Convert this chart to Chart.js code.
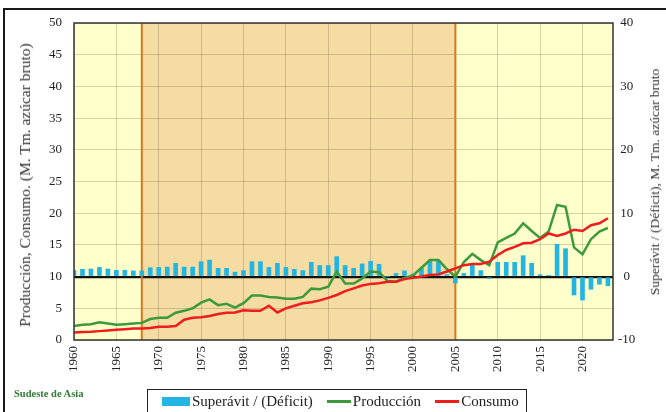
<!DOCTYPE html>
<html>
<head>
<meta charset="utf-8">
<script src="https://cdn.jsdelivr.net/npm/chart.js@4.4.1/dist/chart.umd.min.js"></script>
<style>
  body { margin: 0; background: #fff; }
  #wrap { position: relative; width: 666px; height: 412px; overflow: hidden; font-family: "Liberation Serif", "Times New Roman", serif; color: #222; }
  #frame { position: absolute; left: 3px; top: 8px; width: 700px; height: 500px; border: 2px solid #1a1a1a; }
  #chart { position: absolute; left: 0; top: 0; }
  .ytitle { position: absolute; white-space: nowrap; font-weight: normal; color: #333; transform: translate(-50%, -50%) rotate(-90deg); }
  #ltitle { left: 25px; top: 185px; font-size: 15.5px; }
  #rtitle { left: 655px; top: 182px; font-size: 13.5px; }
  #region { position: absolute; left: 14px; top: 388px; font-size: 10.5px; font-weight: bold; color: #2e7d32; }
  #legend { position: absolute; left: 147px; top: 389px; width: 380px; height: 24px; border: 1.5px solid #222; box-sizing: border-box; display: flex; align-items: center; font-size: 15px; }
  .item { display: flex; align-items: center; margin-left: 14px; }
  .sw { display: inline-block; margin-right: 2px; }
</style>
</head>
<body>
<div id="wrap">
  <div id="frame"></div>
  <canvas id="chart" width="666" height="412"></canvas>
  <div class="ytitle" id="ltitle">Producción, Consumo. (M. Tm. azúcar bruto)</div>
  <div class="ytitle" id="rtitle">Superávit / (Déficit), M. Tm. azúcar bruto</div>
  <div id="region">Sudeste de Asia</div>
  <div id="legend">
    <div class="item"><span class="sw" style="width:28px;height:9px;background:#22b4e2"></span>Superávit / (Déficit)</div>
    <div class="item"><span class="sw" style="width:24px;height:3px;background:#3d9a3a"></span>Producción</div>
    <div class="item"><span class="sw" style="width:24px;height:3px;background:#ee1c1c"></span>Consumo</div>
  </div>
</div>
<script>
const years = [1960, 1961, 1962, 1963, 1964, 1965, 1966, 1967, 1968, 1969,
  1970, 1971, 1972, 1973, 1974, 1975, 1976, 1977, 1978, 1979,
  1980, 1981, 1982, 1983, 1984, 1985, 1986, 1987, 1988, 1989,
  1990, 1991, 1992, 1993, 1994, 1995, 1996, 1997, 1998, 1999,
  2000, 2001, 2002, 2003, 2004, 2005, 2006, 2007, 2008, 2009,
  2010, 2011, 2012, 2013, 2014, 2015, 2016, 2017, 2018, 2019,
  2020, 2021, 2022, 2023];

// production, left axis
const produccion = [2.2, 2.4, 2.5, 2.8, 2.6, 2.4, 2.5, 2.6, 2.7, 3.3,
  3.5, 3.5, 4.3, 4.6, 5.0, 5.9, 6.4, 5.5, 5.7, 5.1,
  5.8, 7.0, 7.0, 6.8, 6.7, 6.5, 6.5, 6.8, 8.1, 8.0,
  8.4, 10.8, 8.9, 8.9, 9.7, 10.8, 10.7, 9.3, 9.2, 9.8,
  10.2, 11.4, 12.6, 12.6, 11.2, 10.0, 12.3, 13.6, 12.6, 11.8,
  15.4, 16.1, 16.8, 18.4, 17.2, 16.1, 17.1, 21.3, 21.0, 14.6,
  13.5, 15.9, 17.1, 17.7];

// consumption, left axis
const consumo = [1.2, 1.25, 1.3, 1.4, 1.5, 1.6, 1.7, 1.8, 1.8, 1.9,
  2.1, 2.1, 2.2, 3.2, 3.5, 3.6, 3.8, 4.1, 4.3, 4.35,
  4.7, 4.6, 4.6, 5.4, 4.35, 5.0, 5.4, 5.8, 5.95, 6.25,
  6.65, 7.1, 7.7, 8.15, 8.6, 8.85, 8.95, 9.2, 9.2, 9.6,
  9.8, 10.0, 10.25, 10.35, 10.8, 11.3, 11.8, 12.0, 12.0, 12.35,
  13.4, 14.2, 14.7, 15.25, 15.35, 15.9, 16.8, 16.4, 16.8, 17.4,
  17.2, 18.1, 18.4, 19.2];

// surplus / (deficit), right axis
const superavit = [0.95, 1.15, 1.2, 1.45, 1.2, 1.0, 1.0, 0.9, 0.9, 1.4,
  1.45, 1.5, 2.1, 1.5, 1.5, 2.35, 2.6, 1.3, 1.3, 0.7,
  0.95, 2.35, 2.35, 1.45, 2.1, 1.45, 1.15, 0.95, 2.25, 1.75,
  1.75, 3.15, 1.75, 1.3, 2.0, 2.4, 1.95, 0.0, 0.5, 0.9,
  0.4, 1.3, 2.4, 2.5, 0.3, -1.0, 0.5, 1.85, 0.95, -0.3,
  2.25, 2.25, 2.25, 3.3, 2.1, 0.3, 0.2, 5.1, 4.4, -2.9,
  -3.7, -2.0, -1.2, -1.45];

const leftTicks = [0, 5, 10, 15, 20, 25, 30, 35, 40, 45, 50];
const rightTicks = [-10, 0, 10, 20, 30, 40];
const shadeFrom = 1968;
const shadeTo = 2005;

const pts = arr => years.map((yr, i) => ({ x: yr, y: arr[i] }));
const tickFont = { family: "'Liberation Serif', 'Times New Roman', serif", size: 13 };
const gridColor = 'rgba(110,100,60,0.28)';

const backdrop = {
  id: 'backdrop',
  beforeDraw(chart) {
    const { ctx, chartArea: a, scales: { x } } = chart;
    ctx.save();
    ctx.fillStyle = '#ffffcc';
    ctx.fillRect(a.left, a.top, a.right - a.left, a.bottom - a.top);
    const x0 = x.getPixelForValue(shadeFrom), x1 = x.getPixelForValue(shadeTo);
    ctx.fillStyle = '#f4dca3';
    ctx.fillRect(x0, a.top, x1 - x0, a.bottom - a.top);
    ctx.restore();
  },
  beforeDatasetsDraw(chart) {
    const { ctx, chartArea: a, scales: { x } } = chart;
    ctx.save();
    ctx.strokeStyle = '#d8781e';
    ctx.lineWidth = 2;
    [shadeFrom, shadeTo].forEach(v => {
      const px = x.getPixelForValue(v);
      ctx.beginPath();
      ctx.moveTo(px, a.top);
      ctx.lineTo(px, a.bottom);
      ctx.stroke();
    });
    ctx.restore();
  },
  afterDraw(chart) {
    const { ctx, chartArea: a } = chart;
    ctx.save();
    ctx.strokeStyle = '#333';
    ctx.lineWidth = 1.5;
    ctx.strokeRect(a.left, a.top, a.right - a.left, a.bottom - a.top);
    ctx.restore();
  }
};

new Chart(document.getElementById('chart'), {
  data: {
    datasets: [
      { type: 'bar', label: 'Superávit / (Déficit)', data: pts(superavit), yAxisID: 'y2',
        backgroundColor: '#22b4e2', barThickness: 4, order: 3 },
      { type: 'line', label: 'Producción', data: pts(produccion), yAxisID: 'y',
        borderColor: '#3d9a3a', borderWidth: 2.5, pointRadius: 0, tension: 0, order: 2 },
      { type: 'line', label: 'Consumo', data: pts(consumo), yAxisID: 'y',
        borderColor: '#ee1c1c', borderWidth: 2.5, pointRadius: 0, tension: 0, order: 1 }
    ]
  },
  options: {
    responsive: false,
    animation: false,
    layout: { padding: { top: 23, left: 0, right: 0, bottom: 0 } },
    plugins: { legend: { display: false }, tooltip: { enabled: false } },
    scales: {
      x: {
        type: 'linear', min: 1960, max: 2023.6, offset: false,
        afterFit: s => { s.height = 72; },
        afterBuildTicks: s => { s.ticks = s.ticks.filter(t => t.value % 5 === 0); },
        ticks: { stepSize: 5, minRotation: 90, maxRotation: 90, padding: 6, color: '#222', font: tickFont,
          callback: v => String(v) },
        grid: { color: gridColor, lineWidth: 1, drawTicks: false, offset: false },
        border: { display: false }
      },
      y: {
        position: 'left', min: 0, max: 50,
        afterFit: s => { s.width = 74; },
        afterBuildTicks: s => { s.ticks = leftTicks.map(v => ({ value: v })); },
        ticks: { padding: 12, color: '#222', font: tickFont },
        grid: { color: gridColor, lineWidth: 1, drawTicks: false },
        border: { display: false }
      },
      y2: {
        position: 'right', min: -10, max: 40,
        afterFit: s => { s.width = 53; },
        afterBuildTicks: s => { s.ticks = rightTicks.map(v => ({ value: v })); },
        ticks: { padding: 5, crossAlign: 'center', color: '#222', font: tickFont },
        grid: {
          drawTicks: false,
          color: c => c.tick && c.tick.value === 0 ? '#111' : 'rgba(0,0,0,0)',
          lineWidth: c => c.tick && c.tick.value === 0 ? 2.2 : 0
        },
        border: { display: false }
      }
    }
  },
  plugins: [backdrop]
});
</script>
</body>
</html>
